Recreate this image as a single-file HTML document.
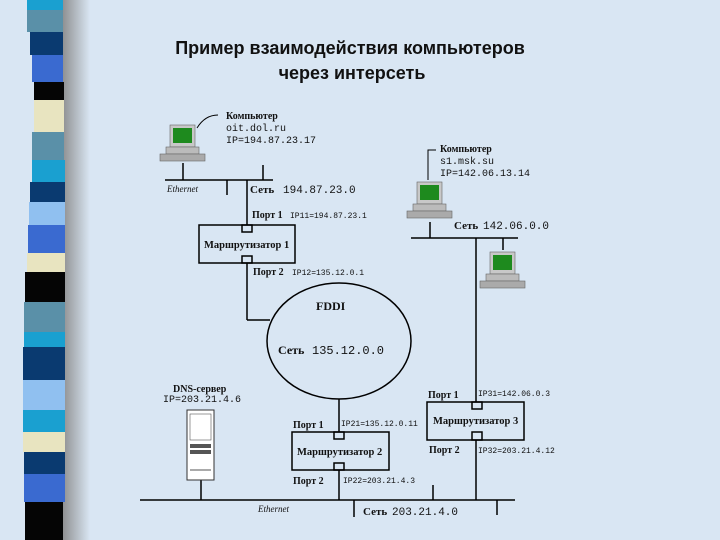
<!DOCTYPE html>
<html><head><meta charset="utf-8"><style>
body{margin:0;width:720px;height:540px;overflow:hidden;background:#d9e6f3}
svg{display:block}
</style></head><body>
<svg width="720" height="540" viewBox="0 0 720 540" xmlns="http://www.w3.org/2000/svg" font-family="Liberation Serif, serif">
<defs>
<linearGradient id="sh" x1="0" x2="1"><stop offset="0" stop-color="#888"/><stop offset="1" stop-color="#d9e6f3"/></linearGradient>
<g id="pc">
<rect x="10" y="0" width="25" height="22" fill="#c8c8c8" stroke="#666" stroke-width="0.6"/>
<rect x="13" y="3" width="19" height="15" fill="#1e8a1e"/>
<rect x="6" y="22" width="33" height="7" fill="#bbb" stroke="#666" stroke-width="0.6"/>
<rect x="0" y="29" width="45" height="7" fill="#aaa" stroke="#666" stroke-width="0.6"/>
</g>
</defs>
<rect x="60" y="0" width="30" height="540" fill="url(#sh)"/>
<g>
<rect x="27" y="0" width="36" height="10" fill="#1aa0d0"/>
<rect x="27" y="10" width="36" height="22" fill="#5a90a8"/>
<rect x="30" y="32" width="33" height="23" fill="#0a3a70"/>
<rect x="32" y="55" width="31" height="27" fill="#3a6ad0"/>
<rect x="34" y="82" width="30" height="18" fill="#050505"/>
<rect x="34" y="100" width="30" height="32" fill="#e8e4c0"/>
<rect x="32" y="132" width="32" height="28" fill="#5a90a8"/>
<rect x="32" y="160" width="33" height="22" fill="#1aa0d0"/>
<rect x="30" y="182" width="35" height="20" fill="#0a3a70"/>
<rect x="29" y="202" width="36" height="23" fill="#90c0f0"/>
<rect x="28" y="225" width="37" height="28" fill="#3a6ad0"/>
<rect x="27" y="253" width="38" height="19" fill="#e8e4c0"/>
<rect x="25" y="272" width="40" height="30" fill="#050505"/>
<rect x="24" y="302" width="41" height="30" fill="#5a90a8"/>
<rect x="24" y="332" width="41" height="15" fill="#1aa0d0"/>
<rect x="23" y="347" width="42" height="33" fill="#0a3a70"/>
<rect x="23" y="380" width="42" height="30" fill="#90c0f0"/>
<rect x="23" y="410" width="42" height="22" fill="#1aa0d0"/>
<rect x="23" y="432" width="42" height="20" fill="#e8e4c0"/>
<rect x="24" y="452" width="41" height="22" fill="#0a3a70"/>
<rect x="24" y="474" width="41" height="28" fill="#3a6ad0"/>
<rect x="25" y="502" width="38" height="38" fill="#050505"/>
</g>
<g font-family="Liberation Sans, sans-serif" font-weight="bold" font-size="18" fill="#111" text-anchor="middle">
<text x="350" y="54">Пример взаимодействия компьютеров</text>
<text x="352" y="79">через интерсеть</text>
</g>
<g stroke="#000" fill="none" stroke-width="1.5">
<line x1="165" y1="180" x2="273" y2="180"/>
<line x1="183" y1="163" x2="183" y2="180"/>
<line x1="263" y1="165" x2="263" y2="180"/>
<line x1="227" y1="180" x2="227" y2="195"/>
<line x1="247" y1="180" x2="247" y2="225"/>
<rect x="199" y="225" width="96" height="38"/>
<rect x="242" y="225" width="10" height="7"/>
<rect x="242" y="256" width="10" height="7"/>
<line x1="247" y1="263" x2="247" y2="320"/>
<line x1="247" y1="320" x2="270" y2="320"/>
<ellipse cx="339" cy="341" rx="72" ry="58"/>
<line x1="411" y1="238" x2="518" y2="238"/>
<line x1="430" y1="222" x2="430" y2="238"/>
<line x1="503" y1="238" x2="503" y2="250"/>
<line x1="476" y1="238" x2="476" y2="402"/>
<rect x="427" y="402" width="97" height="38"/>
<rect x="472" y="402" width="10" height="7"/>
<rect x="472" y="432" width="10" height="8"/>
<line x1="476" y1="440" x2="476" y2="500"/>
<line x1="339" y1="399" x2="339" y2="432"/>
<rect x="292" y="432" width="97" height="38"/>
<rect x="334" y="432" width="10" height="7"/>
<rect x="334" y="463" width="10" height="7"/>
<line x1="339" y1="470" x2="339" y2="500"/>
<line x1="140" y1="500" x2="515" y2="500"/>
<line x1="201" y1="480" x2="201" y2="500"/>
<line x1="433" y1="485" x2="433" y2="500"/>
<line x1="354" y1="500" x2="354" y2="517"/>
<line x1="497" y1="500" x2="497" y2="515"/>
<path d="M197 128 Q205 115 218 115" stroke-width="1"/>
<path d="M428 180 L428 150 L436 150" stroke-width="1"/>
</g>
<use href="#pc" x="160" y="125"/>
<use href="#pc" x="407" y="182"/>
<use href="#pc" x="480" y="252"/>
<g>
<rect x="187" y="410" width="27" height="70" fill="#fff" stroke="#333"/>
<rect x="190" y="414" width="21" height="26" fill="none" stroke="#555" stroke-width="0.6"/>
<rect x="190" y="444" width="21" height="4" fill="#555"/>
<rect x="190" y="450" width="21" height="4" fill="#555"/>
<line x1="190" y1="470" x2="211" y2="470" stroke="#555"/>
</g>
<g font-size="10" font-weight="bold" fill="#111">
<text x="226" y="119">Компьютер</text>
<text x="440" y="152">Компьютер</text>
<text x="252" y="218">Порт 1</text>
<text x="204" y="248" font-size="10.5">Маршрутизатор 1</text>
<text x="253" y="275">Порт 2</text>
<text x="316" y="310" font-size="12">FDDI</text>
<text x="278" y="354" font-size="12">Сеть</text>
<text x="173" y="392" font-size="10">DNS-сервер</text>
<text x="428" y="398">Порт 1</text>
<text x="433" y="424" font-size="10.5">Маршрутизатор 3</text>
<text x="429" y="453">Порт 2</text>
<text x="293" y="428">Порт 1</text>
<text x="297" y="455" font-size="10.5">Маршрутизатор 2</text>
<text x="293" y="484">Порт 2</text>
<text x="250" y="193" font-size="11">Сеть</text>
<text x="454" y="229" font-size="11">Сеть</text>
<text x="363" y="515" font-size="11">Сеть</text>
</g>
<g font-family="Liberation Mono, monospace" font-size="10" fill="#111">
<text x="226" y="131">oit.dol.ru</text>
<text x="226" y="143">IP=194.87.23.17</text>
<text x="440" y="164">s1.msk.su</text>
<text x="440" y="176">IP=142.06.13.14</text>
<text x="283" y="193" font-size="11">194.87.23.0</text>
<text x="483" y="229" font-size="11">142.06.0.0</text>
<text x="312" y="354" font-size="12">135.12.0.0</text>
<text x="392" y="515" font-size="11">203.21.4.0</text>
<text x="163" y="402">IP=203.21.4.6</text>
<g font-size="8">
<text x="290" y="218">IP11=194.87.23.1</text>
<text x="292" y="275">IP12=135.12.0.1</text>
<text x="478" y="396">IP31=142.06.0.3</text>
<text x="478" y="453">IP32=203.21.4.12</text>
<text x="341" y="426">IP21=135.12.0.11</text>
<text x="343" y="483">IP22=203.21.4.3</text>
</g>
</g>
<g font-style="italic" font-size="9" fill="#111">
<text x="167" y="192">Ethernet</text>
<text x="258" y="512">Ethernet</text>
</g>
</svg>
</body></html>
